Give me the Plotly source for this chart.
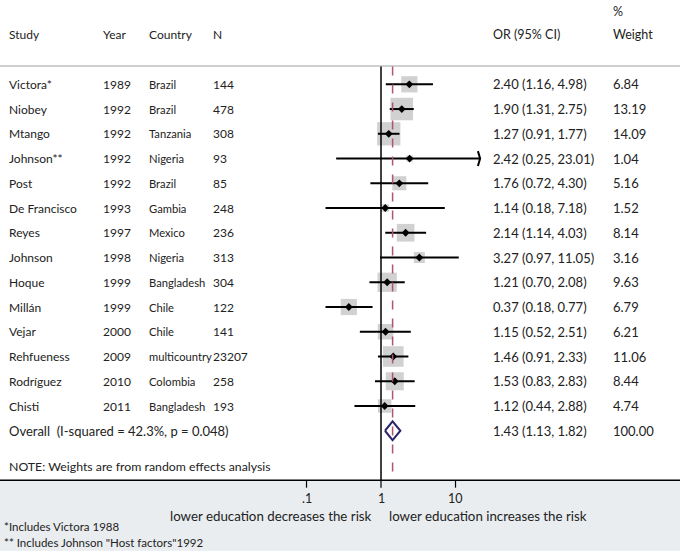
import numpy as np
import plotly.graph_objects as go

studies = ["Victora*", "Niobey", "Mtango", "Johnson**", "Post", "De Francisco", "Reyes",
           "Johnson", "Hoque", "Millán", "Vejar", "Rehfueness", "Rodríguez", "Chisti"]
years = ["1989", "1992", "1992", "1992", "1992", "1993", "1997", "1998", "1999", "1999",
         "2000", "2009", "2010", "2011"]
countries = ["Brazil", "Brazil", "Tanzania", "Nigeria", "Brazil", "Gambia", "Mexico", "Nigeria",
             "Bangladesh", "Chile", "Chile", "multicountry", "Colombia", "Bangladesh"]
ns = ["144", "478", "308", "93", "85", "248", "236", "313", "304", "122", "141", "23207", "258", "193"]
odds = [2.40, 1.90, 1.27, 2.42, 1.76, 1.14, 2.14, 3.27, 1.21, 0.37, 1.15, 1.46, 1.53, 1.12]
lower = [1.16, 1.31, 0.91, 0.25, 0.72, 0.18, 1.14, 0.97, 0.70, 0.18, 0.52, 0.91, 0.83, 0.44]
upper = [4.98, 2.75, 1.77, 23.01, 4.30, 7.18, 4.03, 11.05, 2.08, 0.77, 2.51, 2.33, 2.83, 2.88]
weights = [6.84, 13.19, 14.09, 1.04, 5.16, 1.52, 8.14, 3.16, 9.63, 6.79, 6.21, 11.06, 8.44, 4.74]
overall_label = "Overall  (I-squared = 42.3%, p = 0.048)"
overall_or, overall_lo, overall_hi, overall_w = 1.43, 1.13, 1.82, 100.00
tick_vals = [0.1, 1, 10]
tick_text = [".1", "1", "10"]

FONT = "Lato"
FS = 12
TC = "#222222"
n = len(studies)
rows = list(range(n))
y_overall = n

x_range = [-5.114, 4.013]
clip_hi = 10 ** 1.33
y_range = [18.94, -3.406]

fig = go.Figure()

fig.add_shape(type="rect", xref="paper", yref="y", x0=0, x1=1, y0=16.0, y1=18.85,
              fillcolor="#e9edf0", line_width=0, layer="below")
fig.add_shape(type="line", xref="paper", yref="y", x0=0, x1=1, y0=-0.74, y1=-0.74,
              line=dict(color="#cfcfcf", width=2))
fig.add_shape(type="line", xref="paper", yref="y", x0=0, x1=1, y0=16.0, y1=16.0,
              line=dict(color="black", width=1.3))
fig.add_shape(type="line", xref="x", yref="y", x0=1, x1=1, y0=-0.72, y1=16.0,
              line=dict(color="black", width=1.5))
fig.add_shape(type="line", xref="x", yref="y", x0=overall_or, x1=overall_or, y0=-0.72, y1=16.0,
              line=dict(color="#b0566c", width=1.5, dash="dash"))
for tv in tick_vals:
    fig.add_shape(type="line", xref="x", yref="y", x0=tv, x1=tv, y0=16.0, y1=16.3,
                  line=dict(color="black", width=1.2))

fig.add_trace(go.Scatter(
    x=odds, y=rows, mode="markers",
    marker=dict(symbol="square", size=[6.2 * np.sqrt(w) for w in weights],
                color="#bdbdbd", line=dict(width=0)),
    hoverinfo="skip", showlegend=False))

for i in rows:
    hi = min(upper[i], clip_hi)
    fig.add_trace(go.Scatter(x=[lower[i], hi], y=[i, i], mode="lines",
                             line=dict(color="black", width=2),
                             hoverinfo="skip", showlegend=False))
    if upper[i] > clip_hi:
        fig.add_trace(go.Scatter(x=[hi / 1.07, hi, hi / 1.07], y=[i - 0.3, i, i + 0.3],
                                 mode="lines", line=dict(color="black", width=2),
                                 hoverinfo="skip", showlegend=False))

fig.add_trace(go.Scatter(
    x=odds, y=rows, mode="markers",
    marker=dict(symbol="diamond", size=6, color="black"),
    hoverinfo="skip", showlegend=False))

dh = 0.38
fig.add_trace(go.Scatter(
    x=[overall_lo, overall_or, overall_hi, overall_or, overall_lo],
    y=[y_overall, y_overall - dh, y_overall, y_overall + dh, y_overall],
    mode="lines", line=dict(color="#2e2468", width=2),
    hoverinfo="skip", showlegend=False))

def txt(x, y, s, anchor="left", size=FS):
    fig.add_annotation(x=x, y=y, xref="paper", yref="y", text=s, showarrow=False,
                       xanchor=anchor, yanchor="middle",
                       font=dict(family=FONT, size=size, color=TC))

col_x = dict(study=7 / 680, year=101 / 680, country=147 / 680, n=211 / 680,
             orci=491 / 680, weight=611 / 680)
txt(col_x["study"], -2.0, "Study")
txt(col_x["year"], -2.0, "Year")
txt(col_x["country"], -2.0, "Country")
txt(col_x["n"], -2.0, "N")
txt(col_x["orci"], -2.0, "OR (95% CI)", size=12.5)
txt(col_x["weight"], -2.0, "Weight", size=12.5)
txt(col_x["weight"], -2.93, "%", size=12.5)

for i in rows:
    txt(col_x["study"], i, studies[i])
    txt(col_x["year"], i, years[i])
    txt(col_x["country"], i, countries[i], size=11.2)
    txt(col_x["n"], i, ns[i])
    txt(col_x["orci"], i, f"{odds[i]:.2f} ({lower[i]:.2f}, {upper[i]:.2f})", size=13)
    txt(col_x["weight"], i, f"{weights[i]:.2f}", size=13)

txt(col_x["study"], y_overall, overall_label.replace("  ", "&nbsp;&nbsp;"), size=13)
txt(col_x["orci"], y_overall, f"{overall_or:.2f} ({overall_lo:.2f}, {overall_hi:.2f})", size=13)
txt(col_x["weight"], y_overall, f"{overall_w:.2f}", size=13)

txt(col_x["study"], 15.46, "NOTE: Weights are from random effects analysis", size=12.3)

for tv, tt in zip(tick_vals, tick_text):
    fig.add_annotation(x=np.log10(tv), y=16.72, xref="x", yref="y", text=tt, showarrow=False,
                       xanchor="center", yanchor="middle",
                       font=dict(family=FONT, size=12.5, color=TC))
fig.add_annotation(x=np.log10(0.8), y=17.43, xref="x", yref="y",
                   text="lower education decreases the risk", showarrow=False,
                   xanchor="right", yanchor="middle",
                   font=dict(family=FONT, size=13.3, color=TC))
fig.add_annotation(x=np.log10(1.2), y=17.43, xref="x", yref="y",
                   text="lower education increases the risk", showarrow=False,
                   xanchor="left", yanchor="middle",
                   font=dict(family=FONT, size=13.3, color=TC))
txt(2 / 680, 17.87, "*Includes Victora 1988", size=11.5)
txt(2 / 680, 18.52, "** Includes Johnson \"Host factors\"1992", size=11.5)

fig.update_layout(
    width=680, height=553,
    margin=dict(l=0, r=0, t=0, b=0),
    paper_bgcolor="white", plot_bgcolor="white",
    xaxis=dict(type="log", range=x_range, visible=False, fixedrange=True),
    yaxis=dict(range=y_range, visible=False, fixedrange=True),
    showlegend=False,
)

fig.write_html("out.html", config={"displayModeBar": False},
               post_script="document.body.style.margin='0';document.body.style.overflow='hidden';")
